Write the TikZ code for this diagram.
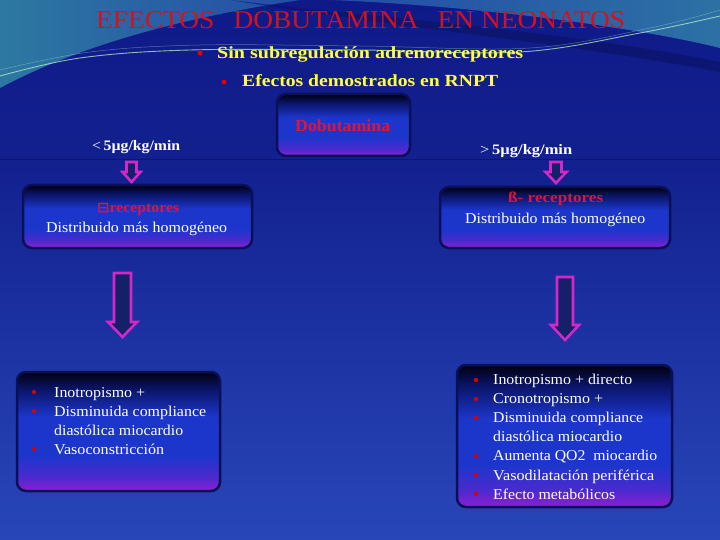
\documentclass[tikz,border=0pt]{standalone}
\usepackage{fontspec}
\setmainfont{Liberation Serif}
\newfontfamily\dejavu{DejaVu Sans}
\usepackage{graphicx}
\definecolor{bgtop}{HTML}{0F1A88}
\definecolor{bgbot}{HTML}{2846B8}
\definecolor{titlered}{HTML}{D8101C}
\definecolor{boxred}{HTML}{E0143A}
\definecolor{yel}{HTML}{FFFF3C}
\definecolor{bdark}{HTML}{00000E}
\definecolor{bnavy}{HTML}{0A1466}
\definecolor{bblue}{HTML}{1C36CC}
\definecolor{bmid}{HTML}{4A2ACE}
\definecolor{bpurple}{HTML}{8E1ED2}
\definecolor{bedge}{HTML}{0A1058}
\definecolor{magarrow}{HTML}{D228C8}
\definecolor{arrfill}{HTML}{142068}
\definecolor{teal}{HTML}{2E8A98}
\definecolor{midblue}{HTML}{2A58B0}
\definecolor{wline}{HTML}{B8F0D0}
\pgfdeclareverticalshading{boxshade}{100bp}{color(0bp)=(bpurple); color(25bp)=(bpurple); color(31bp)=(bmid); color(40bp)=(bblue); color(56bp)=(bblue); color(68bp)=(bnavy); color(75bp)=(bdark); color(100bp)=(bdark)}
\pgfdeclareverticalshading{bgshade}{100bp}{color(0bp)=(bgbot); color(25bp)=(bgbot); color(60bp)=(bgtop!85!bgbot); color(75bp)=(bgtop); color(100bp)=(bgtop)}
\newcommand\wfit[2]{\resizebox{#1}{\height}{#2}}
\tikzset{
  panel/.style={rounded corners=9pt, draw=bedge, line width=2.5pt, shading=boxshade},
  blockarrow/.style={draw=magarrow, line width=2.6pt, fill=arrfill, line join=miter},
  listtext/.style={anchor=base west, inner sep=0pt, text=white, font=\fontsize{15}{15}\selectfont},
  redtext/.style={anchor=base west, inner sep=0pt, text=boxred, font=\fontsize{15}{15}\selectfont\bfseries},
  dot/.style={circle, fill=red!85!black, inner sep=0pt, minimum size=4.2pt},
  ydot/.style={circle, fill=red!90!black, inner sep=0pt, minimum size=5pt}
}
\begin{document}
\begin{tikzpicture}[x=1pt,y=-1pt]
\useasboundingbox (0,0) rectangle (720,540);
% background
\shade[shading=bgshade] (0,0) rectangle (720,540);
% top decoration
\shade[left color=teal!65!midblue, right color=midblue!80!bgtop] (0,0) -- (300,0) .. controls (200,15) and (90,40) .. (0,88) -- cycle;
\shade[left color=midblue!80!bgtop, right color=teal!50!midblue] (330,0) -- (720,0) -- (720,48) .. controls (640,28) and (480,6) .. (330,0) -- cycle;
\fill[bgtop!70!black, opacity=0.55] (230,0) .. controls (380,18) and (560,30) .. (720,62) -- (720,72) .. controls (560,42) and (400,28) .. (230,0) -- cycle;
\draw[wline, line width=0.9pt, opacity=0.75] plot[smooth, tension=0.6] coordinates {(0,76) (80,58) (190,50) (360,50) (520,52) (640,33) (720,16)};
\draw[wline, line width=0.5pt, opacity=0.4] plot[smooth, tension=0.6] coordinates {(0,70) (90,52) (200,45) (360,46) (530,48) (650,28) (720,10)};
% faint rule
\draw[bgtop!60!black, line width=0.6pt, opacity=0.6] (0,159) -- (720,159);

% title
\node (title) [anchor=base west, inner sep=0pt, text=titlered] at (96,29)
  {\resizebox{529pt}{17pt}{\fontsize{27}{27}\selectfont EFECTOS\hspace{0.7em}DOBUTAMINA\hspace{0.7em}EN NEONATOS}};
\node (b1) [ydot] at (200,53) {};
\node (l1) [anchor=base west, inner sep=0pt, text=yel] at (217,58.5)
  {\resizebox{306pt}{\height}{\fontsize{17}{17}\selectfont\bfseries Sin subregulación adrenoreceptores}};
\node (b2) [ydot] at (224,82) {};
\node (l2) [anchor=base west, inner sep=0pt, text=yel] at (242,87)
  {\resizebox{256pt}{\height}{\fontsize{17}{17}\selectfont\bfseries Efectos demostrados en RNPT}};

% Dobutamina box
\path[panel] (277,94) rectangle (410,156);
\node (dobu) [redtext] at (295,131.5) {\wfit{95pt}{\fontsize{17}{17}\selectfont\bfseries Dobutamina}};

% dose labels
\node (low) [anchor=base west, inner sep=0pt, text=white] at (92,150.5)
  {\wfit{88pt}{\fontsize{14.5}{15}\selectfont <\,\textbf{5µg/kg/min}}};
\node (high) [anchor=base west, inner sep=0pt, text=white] at (480,155)
  {\wfit{92pt}{\fontsize{14.5}{15}\selectfont >\,\textbf{5µg/kg/min}}};

% small arrows
\draw[blockarrow] (126.5,162) -- (136.5,162) -- (136.5,172) -- (140.5,172) -- (131.5,182) -- (122.5,172) -- (126.5,172) -- cycle;
\draw[blockarrow] (550.5,162) -- (561.5,162) -- (561.5,172) -- (566.5,172) -- (556,183) -- (545.5,172) -- (550.5,172) -- cycle;

% alpha / beta boxes
\path[panel] (23,185) rectangle (252,248);
\node (alpha) [redtext] at (97,213) {\wfit{82pt}{{\dejavu\fontsize{14}{15}\selectfont ⊟}receptores}};
\node (alphad) [listtext] at (46,233) {\wfit{181pt}{Distribuido más homogéneo}};
\path[panel] (440,187) rectangle (670,248);
\node (beta) [redtext] at (508,203) {\wfit{95pt}{ß- receptores}};
\node (betad) [listtext] at (465,223) {\wfit{180pt}{Distribuido más homogéneo}};

% big arrows
\draw[blockarrow] (114,273) -- (131,273) -- (131,322) -- (137,322) -- (122.5,337) -- (108,322) -- (114,322) -- cycle;
\draw[blockarrow] (557,277) -- (573,277) -- (573,325) -- (579,325) -- (565,340) -- (551,325) -- (557,325) -- cycle;

% bottom-left list
\path[panel] (17,372) rectangle (220,491);
\node (d1) [dot] at (34,392) {};
\node (t1) [listtext] at (54,397) {\wfit{91pt}{Inotropismo +}};
\node (d2) [dot] at (34,411) {};
\node (t2) [listtext] at (54,416.5) {\wfit{152pt}{Disminuida compliance}};
\node (t3) [listtext] at (54,435) {\wfit{129pt}{diastólica miocardio}};
\node (d3) [dot] at (34,449) {};
\node (t4) [listtext] at (54,454) {\wfit{110pt}{Vasoconstricción}};

% bottom-right list
\path[panel] (457,365) rectangle (672,507);
\node (e1) [dot] at (476,380) {};
\node (r1) [listtext] at (493,384.5) {\wfit{139pt}{Inotropismo + directo}};
\node (e2) [dot] at (476,399) {};
\node (r2) [listtext] at (493,403.5) {\wfit{110pt}{Cronotropismo +}};
\node (e3) [dot] at (476,418) {};
\node (r3) [listtext] at (493,422.5) {\wfit{150pt}{Disminuida compliance}};
\node (r4) [listtext] at (493,441) {\wfit{129pt}{diastólica miocardio}};
\node (e5) [dot] at (476,456) {};
\node (r5) [listtext] at (493,460.5) {\wfit{164pt}{Aumenta QO2\ \ miocardio}};
\node (e6) [dot] at (476,475) {};
\node (r6) [listtext] at (493,480) {\wfit{161pt}{Vasodilatación periférica}};
\node (e7) [dot] at (476,494) {};
\node (r7) [listtext] at (493,499) {\wfit{122pt}{Efecto metabólicos}};
\end{tikzpicture}
\end{document}
